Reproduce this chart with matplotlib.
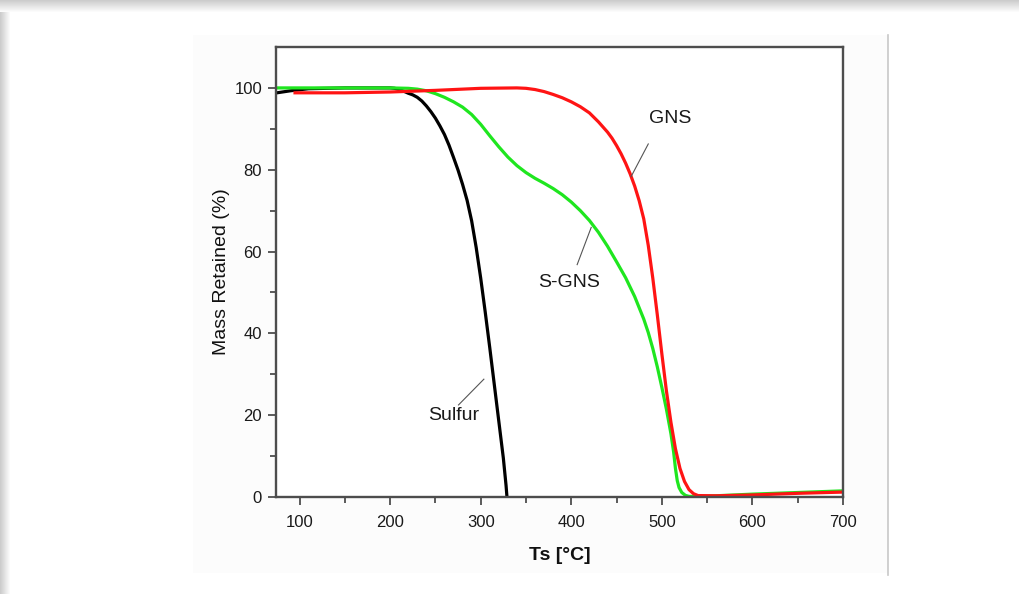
import matplotlib
matplotlib.use("Agg")
import matplotlib.pyplot as plt
from matplotlib.patches import Rectangle
import numpy as np

# ---- data ----
sulfur_T = [75, 90, 110, 150, 200, 205, 210, 215, 220, 225, 230, 235, 240, 245,
            250, 255, 260, 265, 270, 275, 280, 285, 290, 295, 300, 305, 310, 315,
            320, 325, 328, 329]
sulfur_m = [98.8, 99.3, 99.8, 100, 100, 99.9, 99.6, 99.2, 98.7, 98.3, 97.7, 96.8,
            95.6, 94.2, 92.6, 90.7, 88.6, 86.0, 83.0, 79.9, 76.4, 72.5, 67.5, 61.0,
            53.5, 45.2, 36.5, 27.5, 18.5, 9.5, 2.8, 0.0]

sgns_T = [75, 150, 200, 220, 230, 240, 250, 260, 270, 280, 290, 300, 310, 320,
          330, 340, 350, 360, 370, 380, 390, 400, 410, 420, 430, 440, 450, 460,
          470, 480, 485, 490, 495, 500, 505, 510, 513, 515, 517, 519, 522, 526,
          530, 545, 600, 650, 700]
sgns_m = [100, 100, 100, 99.9, 99.7, 99.3, 98.6, 97.7, 96.6, 95.3, 93.5, 91.1,
          88.3, 85.6, 83.1, 81.0, 79.3, 77.9, 76.7, 75.4, 73.9, 72.1, 70.0, 67.6,
          64.7, 61.3, 57.5, 53.6, 49.0, 43.5, 40.2, 36.3, 31.8, 26.8, 21.5, 15.5,
          11.0, 7.0, 4.0, 2.3, 1.1, 0.4, 0.15, 0.15, 0.7, 1.1, 1.5]

gns_T = [95, 150, 200, 250, 300, 340, 350, 360, 370, 380, 390, 400, 410, 420,
         430, 440, 445, 450, 455, 460, 465, 470, 475, 480, 485, 490, 495, 500,
         505, 510, 515, 520, 525, 530, 535, 540, 560, 600, 650, 700]
gns_m = [98.8, 98.8, 99.0, 99.4, 99.9, 100, 99.9, 99.6, 99.1, 98.4, 97.6, 96.6,
         95.4, 93.9, 91.7, 89.2, 87.7, 85.9, 83.9, 81.6, 79.0, 76.0, 72.4, 68.0,
         61.5, 53.5, 44.5, 35.0, 26.0, 18.3, 11.8, 7.0, 3.8, 1.8, 0.8, 0.35,
         0.3, 0.5, 0.9, 1.2]

x_ticks = [100, 200, 300, 400, 500, 600, 700]
y_ticks = [0, 20, 40, 60, 80, 100]

labels = ["Sulfur", "S-GNS", "GNS"]
label_pos = [(270, 19.8), (398, 52.5), (509, 92.6)]
leader_from = [(275.5, 22.5), (406.5, 56.8), (466, 78.3)]
leader_to = [(303.5, 28.8), (422, 65.9), (485, 86.3)]

plt.rcParams['font.family'] = ['Liberation Sans', 'DejaVu Sans']

W, H = 1019, 594
fig = plt.figure(figsize=(W / 100, H / 100), dpi=100)
fig.patch.set_facecolor('white')

# page shadow (top and left)
bg = fig.add_axes([0, 0, 1, 1], zorder=-10)
bg.set_xlim(0, W)
bg.set_ylim(H, 0)
bg.axis('off')
for i in range(12):
    c = 0.80 + 0.2 * i / 12
    bg.add_patch(Rectangle((0, i), W, 1, color=(c, c, c), lw=0))
for i in range(10):
    c = 0.80 + 0.2 * i / 10
    bg.add_patch(Rectangle((i, 12), 1, H, color=(c, c, c), lw=0))
# embedded chart image area
bg.add_patch(Rectangle((193, 35), 695, 538, facecolor='#fcfcfc', edgecolor='none'))
bg.plot([888, 888], [35, 575], color='#c8c8c8', lw=1.2)

ax = fig.add_axes([276 / W, 1 - 497 / H, (843 - 276) / W, (497 - 47) / H])
ax.set_facecolor('white')

ax.plot(sulfur_T, sulfur_m, color='black', lw=2.3, solid_joinstyle='round')
ax.plot(sgns_T, sgns_m, color='#1fe61f', lw=2.3, solid_joinstyle='round')
ax.plot(gns_T, gns_m, color='#ff1414', lw=2.3, solid_joinstyle='round')

for lab, pos, a, b in zip(labels, label_pos, leader_from, leader_to):
    ax.text(pos[0], pos[1], lab, fontsize=14, ha='center', va='center', color='#1a1a1a')
    ax.plot([a[0], b[0]], [a[1], b[1]], color='#555555', lw=0.8)

ax.set_xlim(74, 700)
ax.set_ylim(0, 110)
ax.set_xticks(x_ticks)
ax.set_yticks(y_ticks)
ax.set_xticks(np.arange(150, 700, 100), minor=True)
ax.set_yticks(np.arange(10, 110, 20), minor=True)

for s in ax.spines.values():
    s.set_color('#4d4d4d')
    s.set_linewidth(1.7)

ax.tick_params(axis='both', which='major', direction='out', length=6, width=1.3,
               color='#4d4d4d', labelsize=12, labelcolor='#1a1a1a')
ax.tick_params(axis='both', which='minor', direction='out', length=4, width=1.3,
               color='#4d4d4d')
ax.tick_params(axis='x', which='major', pad=7)
ax.tick_params(axis='y', which='major', pad=4)

ax.set_xlabel('Ts [°C]', fontsize=14, fontweight='bold', labelpad=12, color='#111111')
ax.set_ylabel('Mass Retained (%)', fontsize=14, labelpad=3, color='#111111')

fig.savefig('out.png', dpi=100)
